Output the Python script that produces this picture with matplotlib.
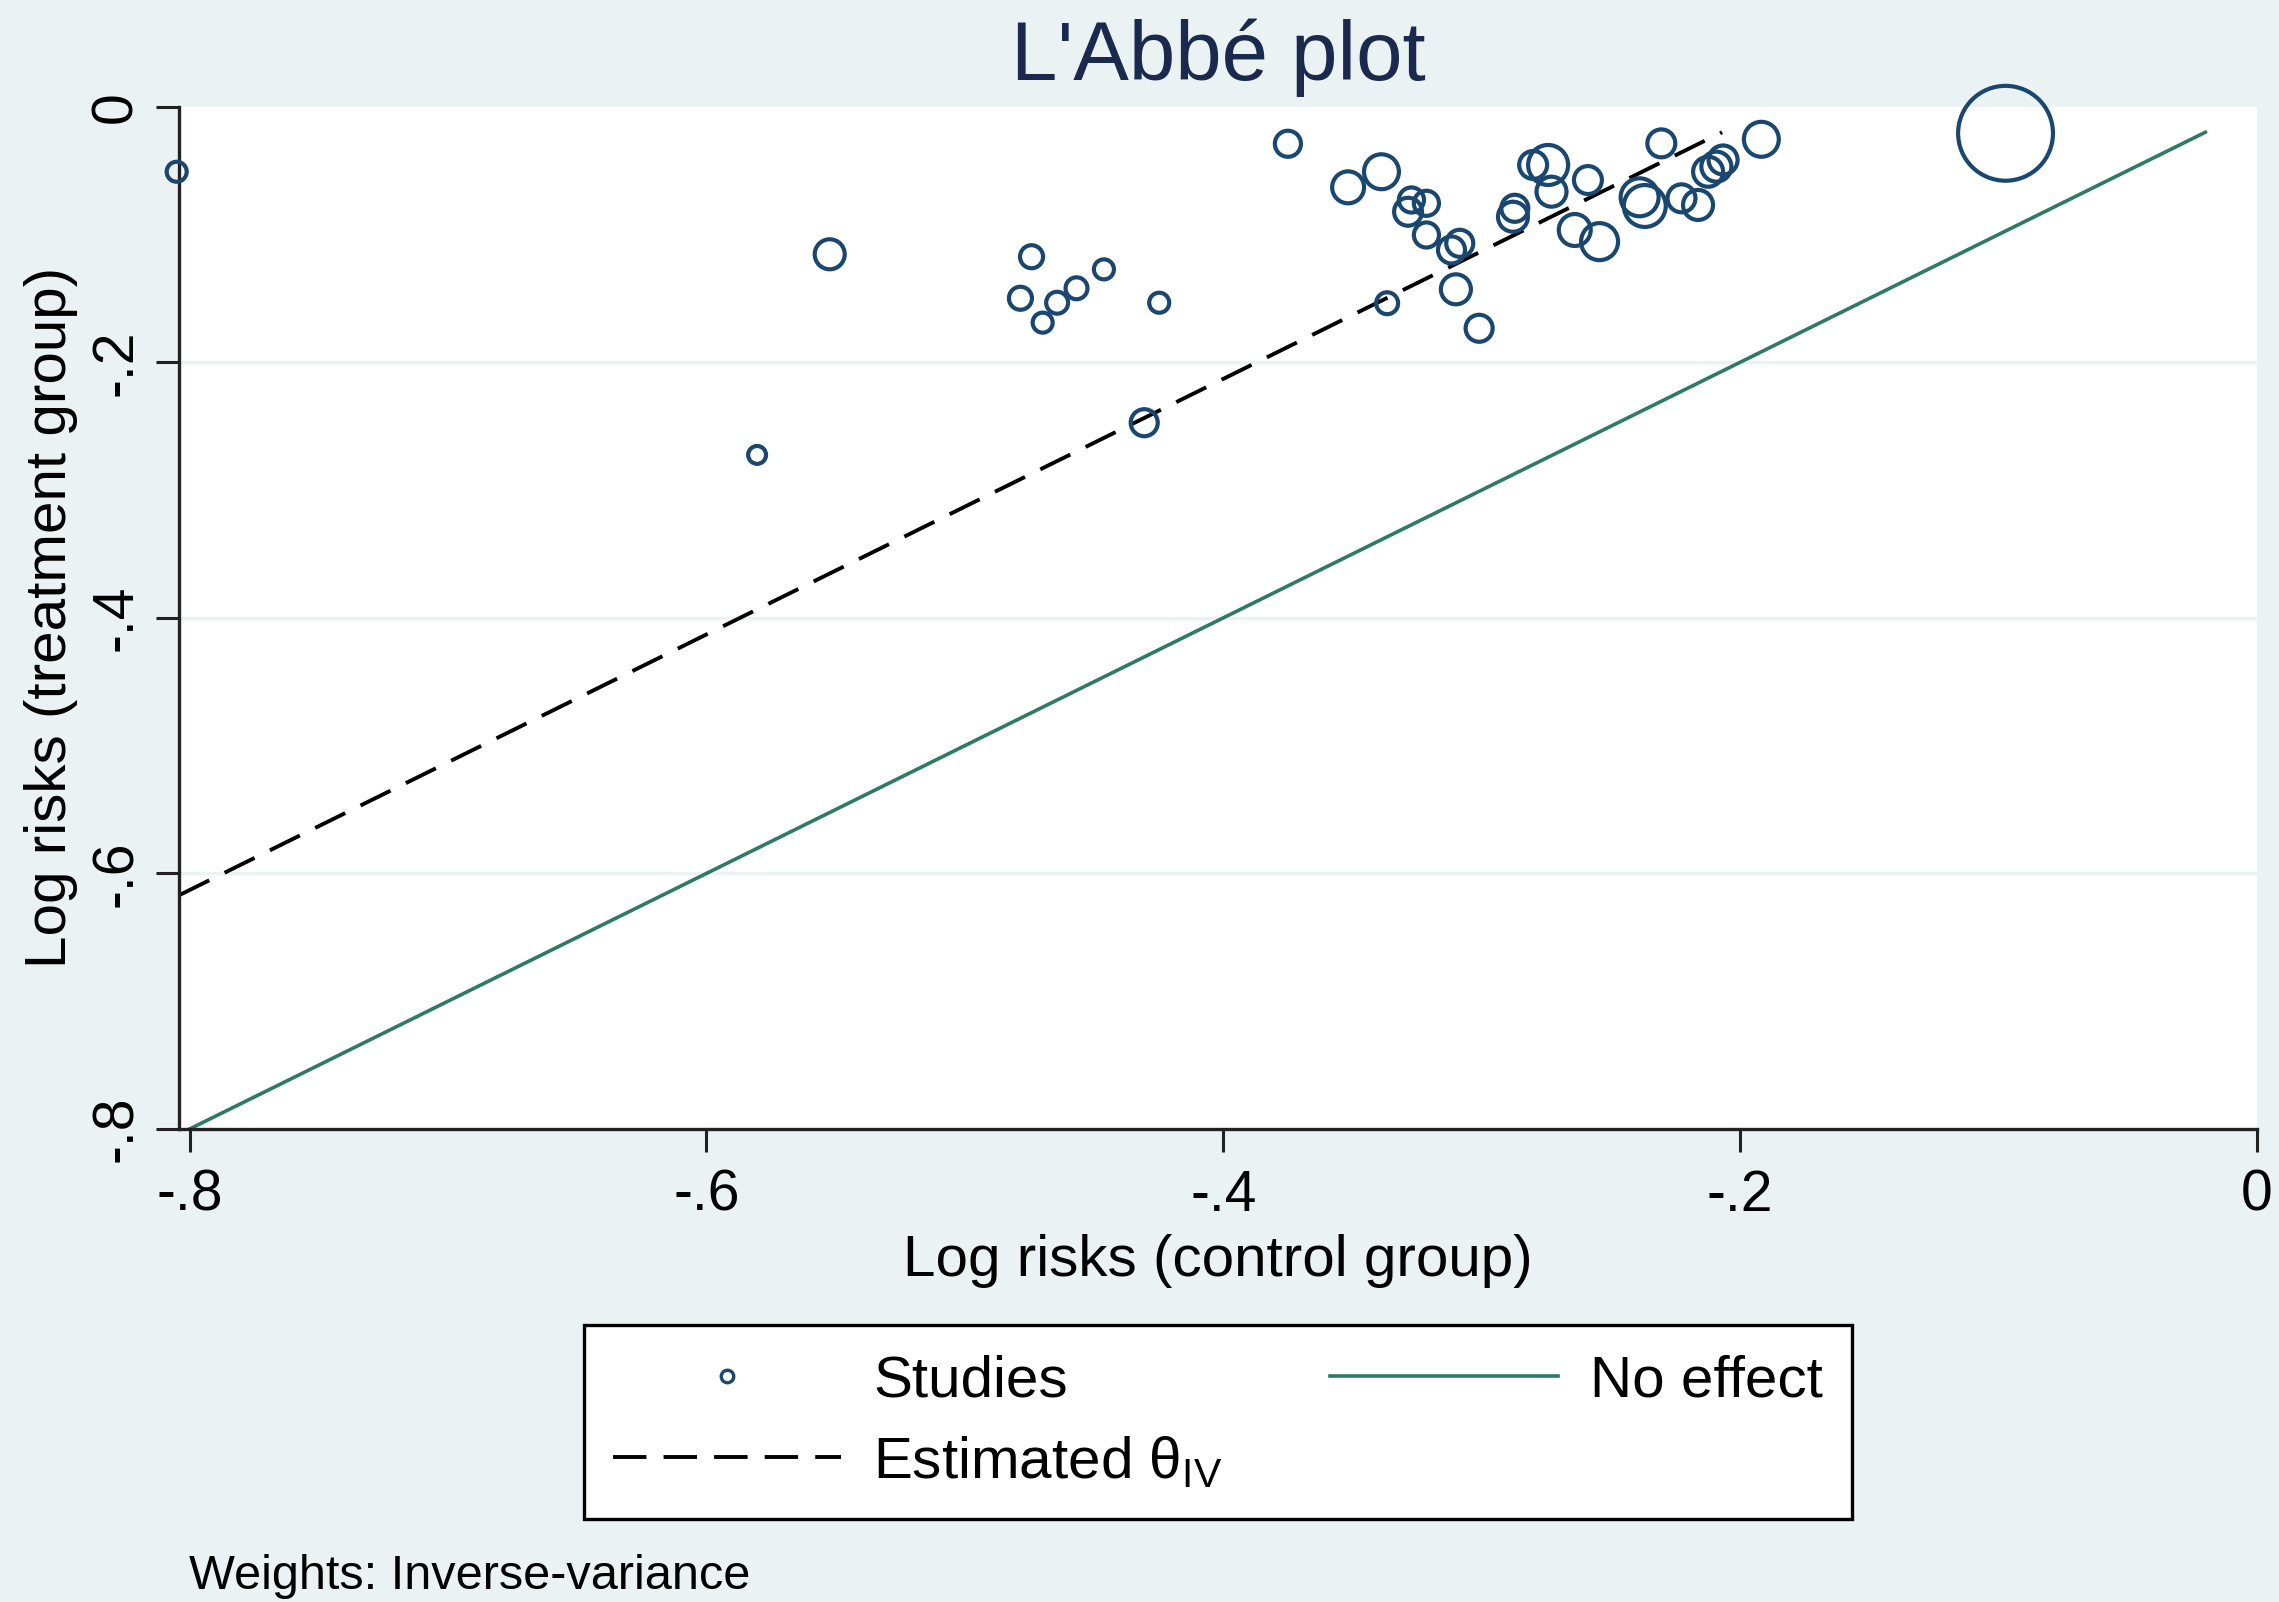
import matplotlib
matplotlib.use("Agg")
import matplotlib.pyplot as plt
from matplotlib.lines import Line2D
import numpy as np

plt.rcParams['font.family'] = ['Liberation Sans', 'DejaVu Sans']
plt.rcParams['mathtext.fontset'] = 'custom'
plt.rcParams['mathtext.rm'] = 'Liberation Sans'
plt.rcParams['mathtext.it'] = 'Liberation Sans:italic'
plt.rcParams['mathtext.bf'] = 'Liberation Sans:bold'

# ---- data (log risks) ----
log_risk_control = [-0.805, -0.5523, -0.5804, -0.4742, -0.4785, -0.4699, -0.4643, -0.4568, -0.4462, -0.4248,
                    -0.4306, -0.3750, -0.3517, -0.3388, -0.3272, -0.3285, -0.3214, -0.3214, -0.3117, -0.3085,
                    -0.3100, -0.3010, -0.3366, -0.2879, -0.2872, -0.2801, -0.2743, -0.2730, -0.2589, -0.2640,
                    -0.2544, -0.2389, -0.2369, -0.2305, -0.2227, -0.2163, -0.2124, -0.2092, -0.2066, -0.1918,
                    -0.0973]
log_risk_treatment = [-0.0509, -0.1155, -0.2725, -0.1174, -0.1499, -0.1690, -0.1534, -0.1421, -0.1273, -0.1534,
                      -0.2473, -0.0290, -0.0631, -0.0509, -0.0730, -0.0822, -0.0756, -0.1004, -0.1121, -0.1069,
                      -0.1429, -0.1734, -0.1538, -0.0861, -0.0795, -0.0456, -0.0456, -0.0665, -0.0574, -0.0965,
                      -0.1056, -0.0709, -0.0777, -0.0287, -0.0717, -0.0769, -0.0509, -0.0469, -0.0417, -0.0255,
                      -0.0208]
# relative inverse-variance weights (marker area proportional to weight)
weights = [4.0, 9.0, 3.2, 5.3, 5.3, 4.0, 4.8, 4.8, 4.0, 4.0,
           7.3, 6.8, 10.2, 12.2, 6.3, 7.8, 6.3, 6.3, 7.3, 7.3,
           9.0, 7.3, 4.8, 9.0, 7.3, 7.8, 16.0, 9.0, 7.8, 10.2,
           13.7, 14.4, 17.6, 7.8, 7.8, 9.0, 9.0, 9.0, 8.4, 12.2,
           90.0]

theta_iv = 0.187            # estimated log risk ratio offset
est_x = [-0.804, -0.207]    # range of the estimated line
noeff_x = [-0.804, -0.020]  # range of the no-effect line

x_ticks = [-0.8, -0.6, -0.4, -0.2, 0.0]
x_ticklabels = ['-.8', '-.6', '-.4', '-.2', '0']
y_ticks = [-0.8, -0.6, -0.4, -0.2, 0.0]
y_ticklabels = ['-.8', '-.6', '-.4', '-.2', '0']

BG = '#eaf2f3'
NAVY = '#1a476f'
GREEN = '#2e7a66'
DASH = (0, (8.6, 4.4))

fig = plt.figure(figsize=(22.79, 16.02), dpi=100, facecolor=BG)
ax = fig.add_axes([179/2279, 1 - 1129/1602, (2257-179)/2279, (1129-106.7)/1602])
ax.set_facecolor('white')

ax.set_xlim(-0.8041, 0.0)
ax.set_ylim(-0.8, 0.0)

# gridlines
for yv in [-0.6, -0.4, -0.2]:
    ax.axhline(yv, color=BG, lw=2.4, zorder=0)

# lines
ex = np.array(est_x)
ax.plot(ex, ex + theta_iv, color='black', lw=2.8, linestyle=DASH, zorder=2)
nx = np.array(noeff_x)
ax.plot(nx, nx, color=GREEN, lw=2.6, zorder=2)

# studies
s = np.array(weights) * 51.84
ax.scatter(log_risk_control, log_risk_treatment, s=s, facecolors='none', edgecolors=NAVY,
           linewidths=3.0, zorder=3, clip_on=False)

# axes styling
for sp in ['top', 'right']:
    ax.spines[sp].set_visible(False)
for sp in ['left', 'bottom']:
    ax.spines[sp].set_linewidth(2.4)
    ax.spines[sp].set_color('#222222')

ax.set_xticks(x_ticks)
ax.set_xticklabels(x_ticklabels)
ax.set_yticks(y_ticks)
ax.set_yticklabels(y_ticklabels, rotation=90, va='center')
ax.tick_params(axis='both', direction='out', length=16.5, width=2.2, color='#222222',
               labelsize=41)
ax.tick_params(axis='x', pad=12)
ax.tick_params(axis='y', pad=9)

ax.set_xlabel('Log risks (control group)', fontsize=42, labelpad=8)
ax.set_ylabel('Log risks (treatment group)', fontsize=42, labelpad=8)
ax.set_title("L'Abbé plot", fontsize=60, color='#1a2a4f', pad=19)

handles = [
    Line2D([], [], linestyle='none', marker='o', markersize=9, markerfacecolor='none',
           markeredgecolor=NAVY, markeredgewidth=2.4),
    Line2D([], [], color='black', lw=2.8, linestyle=DASH),
    Line2D([], [], color=GREEN, lw=2.6),
]
labels = ['Studies', 'Estimated θ$_{\\mathrm{IV}}$', 'No effect']
leg = fig.legend(handles, labels, loc='center', bbox_to_anchor=(1218/2279, 1 - 1422/1602),
                 ncol=2, fontsize=42, frameon=True, fancybox=False, shadow=False, framealpha=1,
                 handlelength=3.9, handletextpad=0.55, columnspacing=1.85, labelspacing=0.45,
                 borderpad=0.5, borderaxespad=0)
leg.get_frame().set_edgecolor('black')
leg.get_frame().set_linewidth(2.4)
leg.get_frame().set_facecolor('white')

fig.text(189/2279, 1 - 1589/1602, 'Weights: Inverse-variance', fontsize=35, va='baseline', ha='left')

fig.savefig('out.png', dpi=100, facecolor=BG)
